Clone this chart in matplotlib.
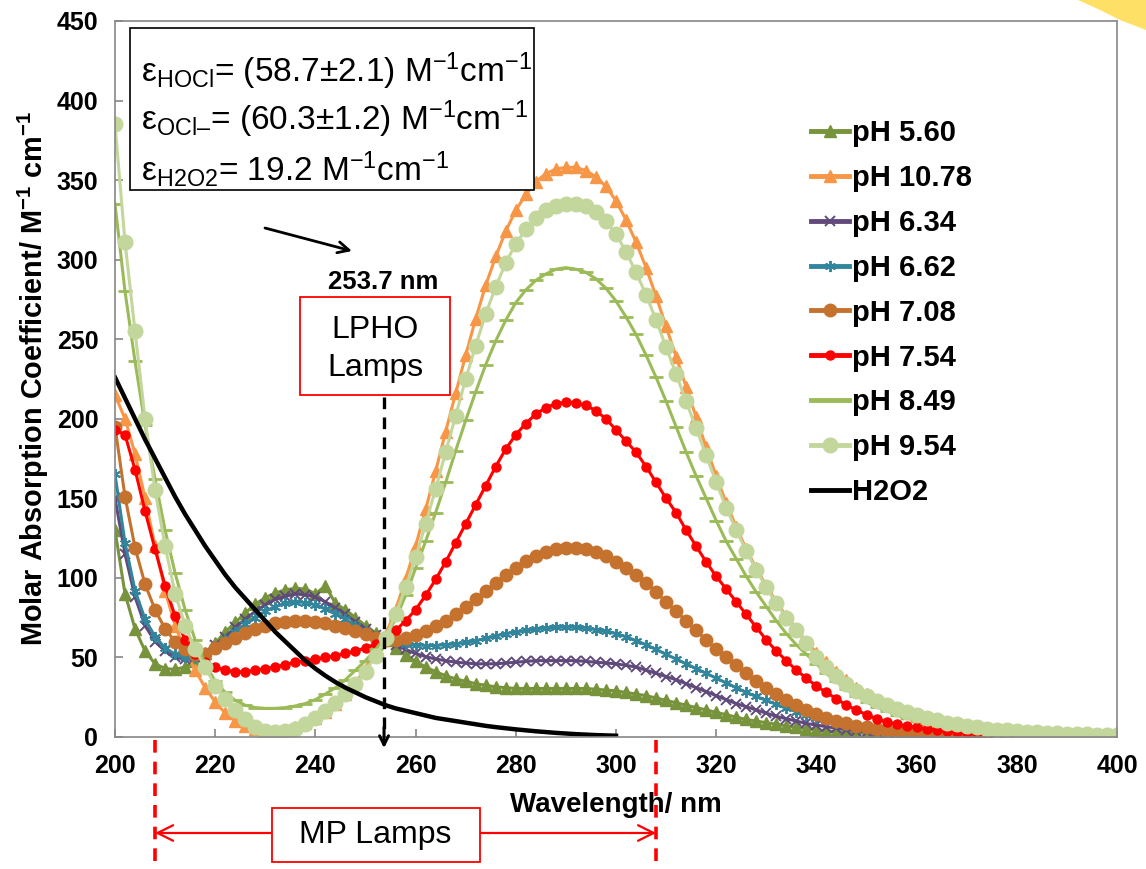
import numpy as np
import matplotlib.pyplot as plt
from matplotlib.patches import Rectangle, Polygon
from matplotlib.transforms import blended_transform_factory

plt.rcParams['font.family'] = ['Liberation Sans', 'DejaVu Sans']
plt.rcParams['mathtext.fontset'] = 'custom'
plt.rcParams['mathtext.rm'] = 'Liberation Sans'
plt.rcParams['mathtext.it'] = 'Liberation Sans:italic'
plt.rcParams['mathtext.bf'] = 'Liberation Sans:bold'

# wavelength grid (nm)
wavelength = np.arange(200, 401, 2)
wavelength_h2o2 = np.arange(200, 301, 2)

# molar absorption coefficients, M^-1 cm^-1
ph_5_60 = [130, 90, 68, 54, 46, 43, 42.5, 44, 47.5, 53,
           59, 66, 72, 78, 83.5, 87.5, 90.5, 92.5, 93.5, 93,
           90, 95, 84, 80, 75, 70, 65.5, 61, 56, 51.5,
           47.5, 44, 41, 38.5, 36.5, 35, 33.5, 32.5, 31.5, 31,
           30.5, 30.5, 30.5, 30.5, 30.5, 30.5, 30.5, 30.5, 30, 29.5,
           29, 28, 27, 26, 24.5, 23, 21.5, 20, 18.5, 17,
           15.5, 14, 12.5, 11, 10, 9, 8, 7, 6, 5.2,
           4.5, 3.9, 3.4, 3, 2.6, 2.3, 2, 1.7, 1.5, 1.3,
           1.1, 1, 0.9, 0.8, 0.7, 0.6, 0.6, 0.5, 0.5, 0.4,
           0.4, 0.4, 0.3, 0.3, 0.3, 0.3, 0.2, 0.2, 0.2, 0.2,
           0.2]
ph_10_78 = [215, 200, 178, 150, 120, 92, 70, 54, 42, 31,
            22, 15, 10, 7, 5, 4, 4, 4.5, 6, 8.5,
            12, 16, 21, 27, 34, 43, 53, 64, 80, 99,
            120, 143, 167, 192, 216, 240, 263, 284, 302, 318,
            331, 341, 349, 354, 357, 358, 358, 356, 352, 346,
            337, 325, 311, 295, 277, 258, 239, 220, 201, 182,
            164, 147, 132, 118, 106, 95, 85, 76, 68, 60,
            53, 47, 41, 36, 31, 27, 23, 20, 17, 15,
            13, 11, 9.5, 8, 7, 6, 5, 4.5, 4, 3.5,
            3, 2.6, 2.3, 2, 1.8, 1.6, 1.4, 1.2, 1.1, 1,
            0.9]
ph_6_34 = [150, 115, 88, 70, 60, 54, 50, 49, 50, 53,
           58, 63, 69, 74, 79, 83, 86.5, 88.5, 90, 89.5,
           88, 85, 81, 77, 72.5, 68, 64, 61, 58, 55,
           52.5, 50.5, 49, 48, 47, 46.5, 46, 46, 46, 46.5,
           47, 47.5, 48, 48, 48, 48, 48, 47.5, 47, 46.5,
           46, 45, 44, 42, 40, 38, 36, 33.5, 31, 28.5,
           26, 23.5, 21, 19, 17, 15, 13, 11.5, 10, 8.5,
           7.5, 6.5, 5.5, 4.7, 4, 3.4, 3, 2.6, 2.2, 1.9,
           1.6, 1.4, 1.2, 1.1, 1, 0.9, 0.8, 0.7, 0.6, 0.6,
           0.5, 0.5, 0.4, 0.4, 0.4, 0.3, 0.3, 0.3, 0.3, 0.3,
           0.2]
ph_6_62 = [165, 122, 92, 74, 63, 56, 52, 50, 50, 52,
           56, 61, 66, 71, 75, 79, 82, 84, 85, 84.5,
           83, 80.5, 77.5, 74, 70, 66.5, 63.5, 61, 59.5, 58.5,
           58, 57.5, 57.5, 58, 58.5, 59.5, 60.5, 62, 63.5, 65,
           66, 67, 68, 68.5, 69, 69, 69, 68.5, 67.5, 66.5,
           65, 63, 60.5, 58, 55, 52, 49, 46, 43, 40,
           37, 34, 31, 28, 25.5, 23, 20.5, 18, 16, 14,
           12, 10.5, 9, 7.5, 6.5, 5.5, 4.7, 4, 3.4, 3,
           2.6, 2.2, 1.9, 1.6, 1.4, 1.2, 1.1, 1, 0.9, 0.8,
           0.7, 0.6, 0.6, 0.5, 0.5, 0.4, 0.4, 0.4, 0.3, 0.3,
           0.3]
ph_7_08 = [195, 151, 119, 96, 80, 68, 60, 55, 52, 52,
           56, 59, 62.5, 65.5, 68, 70, 71.5, 72.5, 73, 73,
           72.5, 71.5, 70, 68.5, 66.5, 64.5, 62.5, 61, 61, 62,
           64, 66.5, 69.5, 73, 77, 82, 87, 92, 97, 102,
           106.5, 110.5, 114, 116.5, 118, 119, 119, 118, 116, 113.5,
           110, 106, 102, 97, 91, 85, 79, 73, 67, 61,
           55.5, 50, 45, 40, 35.5, 31, 27, 23.5, 20, 17,
           14.5, 12, 10, 8.5, 7, 6, 5, 4.2, 3.5, 3,
           2.5, 2.2, 1.9, 1.6, 1.4, 1.2, 1.1, 1, 0.9, 0.8,
           0.7, 0.7, 0.6, 0.6, 0.5, 0.5, 0.5, 0.4, 0.4, 0.4,
           0.4]
ph_7_54 = [193, 190, 168, 142, 118, 95, 76, 61, 52, 47,
           44, 42, 41, 41, 42, 43, 44, 45.5, 47, 48,
           49, 50, 51, 52.5, 54, 56, 58.5, 62, 67, 73,
           80, 89, 99, 110, 122, 134, 146, 158, 170, 181,
           190, 197, 203, 207, 209.5, 210.5, 210, 208.5, 205, 200,
           193, 186, 179, 170, 160, 150, 141, 130, 120, 110,
           101, 93, 85, 77, 69, 61, 54, 48, 42, 37,
           32, 28, 24, 20, 17, 14, 11.5, 9.5, 8, 7,
           6, 5, 4.3, 3.7, 3.2, 2.8, 2.5, 2.2, 2, 1.8,
           1.6, 1.4, 1.3, 1.2, 1.1, 1, 0.9, 0.9, 0.8, 0.8,
           0.7]
ph_8_49 = [335, 280, 236, 196, 162, 130, 103, 80, 61, 46,
           35, 28, 23, 20, 18.5, 18, 18, 18.5, 19.5, 21,
           23.5, 27, 31, 36, 42, 48, 55, 63, 74, 89,
           106, 123, 141, 160, 180, 199, 217, 234, 249, 262,
           273, 281, 287, 291, 294, 295, 294, 292, 288, 282,
           274, 264, 253, 240, 226, 211, 195, 179, 164, 150,
           136, 123, 112, 101, 91, 82, 73, 65, 58, 52,
           46, 40, 35, 30, 26, 22, 19, 16.5, 14, 12,
           10.5, 9, 8, 7, 6, 5, 4.5, 4, 3.5, 3,
           2.6, 2.3, 2, 1.8, 1.6, 1.4, 1.3, 1.2, 1.1, 1,
           0.9]
ph_9_54 = [385, 311, 255, 200, 155, 120, 90, 70, 55, 44,
           32, 24, 17, 11, 6.5, 3.5, 3, 3.5, 5, 8,
           12, 16.5, 21.5, 27, 33, 41, 51, 62, 77, 94,
           113, 134, 156, 179, 202, 225, 246, 266, 283, 298,
           310, 319, 326, 331, 334, 335, 335, 334, 330, 324,
           316, 305, 292, 278, 262, 245, 228, 211, 194, 177,
           160, 144, 130, 117, 105, 94, 84, 75, 67, 59,
           50, 44, 38.5, 33.5, 29, 25.5, 22.5, 20, 17.5, 15.5,
           14, 12, 10.5, 9, 8, 7, 6, 5.3, 4.7, 4.2,
           3.7, 3.3, 3, 2.6, 2.3, 2, 1.8, 1.6, 1.4, 1.2,
           1]
h2o2 = [226, 213, 200, 187, 175, 163, 151, 140, 130, 120,
        111, 102, 94, 87, 80, 73, 66, 60, 54, 48,
        43, 38.5, 34.5, 31, 28, 25, 22.5, 20, 18, 16.5,
        15, 13.5, 12, 11, 10, 9, 8, 7, 6.2, 5.5,
        4.8, 4.2, 3.6, 3.1, 2.6, 2.2, 1.8, 1.5, 1.2, 1,
        0.8]

series = [
    ('pH 5.60', ph_5_60, '#77933C', '^', 8.5, 1),
    ('pH 10.78', ph_10_78, '#F79646', '^', 8.5, 1),
    ('pH 6.34', ph_6_34, '#604A7B', 'x', 7, 1.4),
    ('pH 6.62', ph_6_62, '#31859C', (6, 2, 0), 8, 1.4),
    ('pH 7.08', ph_7_08, '#C5722F', 'o', 9, 1),
    ('pH 7.54', ph_7_54, '#FF0000', 'o', 6.5, 1),
    ('pH 8.49', ph_8_49, '#9BBB59', '_', 10, 2),
    ('pH 9.54', ph_9_54, '#C3D69B', 'o', 10.5, 1),
]

W, H = 1146, 869
fig = plt.figure(figsize=(W / 100, H / 100), dpi=100)


def fx(px):
    return px / W


def fy(py):
    return 1 - py / H


ax = fig.add_axes([fx(115), fy(737), fx(1117) - fx(115), fy(21) - fy(737)])

for label, vals, col, mk, ms, mew in series:
    ax.plot(wavelength, vals, color=col, lw=2.2, marker=mk, ms=ms,
            mfc=col, mec=col, mew=mew, label=label)
ax.plot(wavelength_h2o2, h2o2, color='black', lw=3.2, label='H2O2')

ax.set_xlim(200, 400)
ax.set_ylim(0, 450)
ax.set_xticks(range(200, 401, 20))
ax.set_yticks(range(0, 451, 50))
for sp in ax.spines.values():
    sp.set_color('#868686')
    sp.set_linewidth(1.2)
ax.tick_params(direction='in', color='#868686', length=6, width=1.2,
               labelsize=18, pad=12)
for lab in ax.get_xticklabels() + ax.get_yticklabels():
    lab.set_fontweight('bold')
ax.set_xlabel('Wavelength/ nm', fontsize=20, fontweight='bold', labelpad=10)
ax.set_ylabel(r'Molar Absorption Coefficient/ M$^{\mathbf{-1}}$ cm$^{\mathbf{-1}}$',
              fontsize=20.8, fontweight='bold', labelpad=4)

leg = fig.legend(loc='upper left', bbox_to_anchor=(fx(811), fy(119)),
                 frameon=False, prop={'weight': 'bold', 'size': 21},
                 labelspacing=0.58, handlelength=1.3, handletextpad=0.1,
                 borderpad=0, borderaxespad=0)
for ln in leg.get_lines():
    ln.set_linewidth(3.5)

# epsilon box
fig.add_artist(Rectangle((fx(130), fy(190)), fx(534) - fx(130), fy(28) - fy(190),
                         transform=fig.transFigure, facecolor='white',
                         edgecolor='black', lw=1.2))
eps_lines = [r'ε$_{\mathrm{HOCl}}$= (58.7±2.1) M$^{-1}$cm$^{-1}$',
             r'ε$_{\mathrm{OCl–}}$= (60.3±1.2) M$^{-1}$cm$^{-1}$',
             r'ε$_{\mathrm{H2O2}}$= 19.2 M$^{-1}$cm$^{-1}$']
for s, yy in zip(eps_lines, [71, 119, 169]):
    fig.text(fx(141), fy(yy), s, fontsize=24, va='center', ha='left')

ax.annotate('', xy=(fx(352), fy(251)), xytext=(fx(265), fy(228)),
            xycoords='figure fraction', textcoords='figure fraction',
            arrowprops=dict(arrowstyle='->', color='black', lw=2,
                            mutation_scale=20, shrinkA=0, shrinkB=0),
            annotation_clip=False)

# LPHO lamp line
fig.text(fx(383), fy(282), '253.7 nm', fontsize=18.5, fontweight='bold',
         ha='center', va='center')
fig.add_artist(Rectangle((fx(300), fy(395)), fx(450) - fx(300), fy(297) - fy(395),
                         transform=fig.transFigure, facecolor='white',
                         edgecolor='red', lw=1.3))
fig.text(fx(375), fy(330), 'LPHO', fontsize=23, ha='center', va='center')
fig.text(fx(375), fy(368), 'Lamps', fontsize=23, ha='center', va='center')
ax.plot([253.7, 253.7], [214, 4], color='black', lw=2.4, dashes=(3.5, 2.5),
        clip_on=False, zorder=20)
ax.annotate('', xy=(253.7, -7), xytext=(253.7, 6),
            arrowprops=dict(arrowstyle='->', color='black', lw=2.2,
                            mutation_scale=16, shrinkA=0, shrinkB=0),
            annotation_clip=False, zorder=20)

# MP lamp range
trans = blended_transform_factory(ax.transData, fig.transFigure)
for xv in (208, 308):
    ax.plot([xv, xv], [fy(740), 0], transform=trans, color='red', lw=2.6,
            dashes=(3.5, 2.5), clip_on=False)
ax.annotate('', xy=(208, fy(833)), xytext=(308, fy(833)),
            xycoords=trans, textcoords=trans,
            arrowprops=dict(arrowstyle='<->', color='red', lw=1.6,
                            mutation_scale=28, shrinkA=0, shrinkB=0),
            annotation_clip=False)
fig.add_artist(Rectangle((fx(272), fy(862)), fx(480) - fx(272), fy(808) - fy(862),
                         transform=fig.transFigure, facecolor='white',
                         edgecolor='red', lw=1.3))
fig.text(fx(375), fy(835), 'MP Lamps', fontsize=23, ha='center', va='center')

# slide decoration in the top right corner
fig.add_artist(Polygon([(fx(1078), fy(0)), (fx(1146), fy(0)), (fx(1146), fy(30)),
                        (fx(1120), fy(20)), (fx(1098), fy(9))],
                       closed=True, transform=fig.transFigure,
                       facecolor='#FFE066', edgecolor='none'))

fig.savefig('out.png', dpi=100)
